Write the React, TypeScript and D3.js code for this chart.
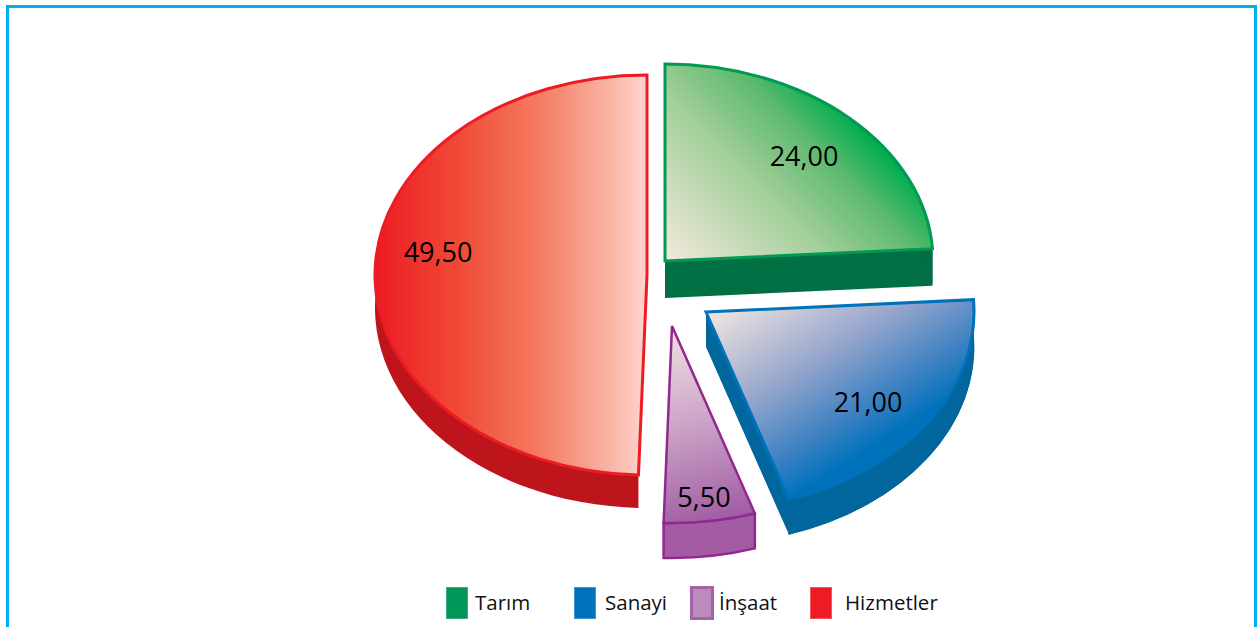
import React from "react";
import * as d3 from "d3";

const categories = ["Tarım", "Sanayi", "İnşaat", "Hizmetler"];
const values = [24, 21, 5.5, 49.5];
const valueLabels = ["24,00", "21,00", "5,50", "49,50"];

// style / layout tables, indexed like categories
const centers = [[665, 261], [706, 312], [672, 326], [647, 275]];
const radii = [[268, 197], [268, 197], [268, 197], [272, 200]];
const depths = [37, 35, 35, 33];
const strokes = ["#009a54", "#0072bc", "#92278f", "#ed1c24"];
const strokeWidths = [3, 3, 2.5, 3];
const sides = ["#006f44", "#00669d", "#a35ba3", "#be151c"];
const wallStrokes = ["none", "#005f92", "#92278f", "none"];
const gradStops = [
  [[0, "#f5e9dd"], [0.5, "#a5cf9c"], [0.8, "#5dba6e"], [1, "#00ac50"]],
  [[0, "#f4e6e0"], [0.5, "#92a4cc"], [0.8, "#3f82c2"], [1, "#0072bc"]],
  [[0, "#f2e0e2"], [0.5, "#c9a0c5"], [1, "#9c559f"]],
  [[0, "#ed1c24"], [0.3, "#f04a36"], [0.6, "#f47c62"], [0.85, "#f9b2a2"], [1, "#ffd6d1"]],
];
const gradVec = [[665, 261, 830, 96], [706, 312, 814, 484], [672, 326, 725, 530], [378, 275, 648, 275]];
const labelPos = [[804, 166], [868, 412], [704, 507], [438, 262]];
const legendSwatch = [446, 574, 691, 810];
const legendText = [475, 605, 719, 845];
const legendFill = ["#00965a", "#0072bc", "#bb8cbc", "#ed1c24"];
const legendStroke = ["#3fae7c", "#3f95cd", "#a561aa", "#f2555a"];

const FONT = "'Open Sans', 'Noto Sans', sans-serif";

export default function App() {
  const arcs = d3.pie<number>().sort(null)(values);
  const pt = (i: number, a: number, dy = 0) => [
    centers[i][0] + radii[i][0] * Math.sin(a),
    centers[i][1] - radii[i][1] * Math.cos(a) + dy,
  ];
  const arcTo = (i: number, a0: number, a1: number, dy: number, sweep: number) => {
    const [x, y] = pt(i, a1, dy);
    const large = Math.abs(a1 - a0) > Math.PI ? 1 : 0;
    return `A${radii[i][0]} ${radii[i][1]} 0 ${large} ${sweep} ${x} ${y}`;
  };
  const face = (i: number, a0: number, a1: number) => {
    const [cx, cy] = centers[i];
    const [x0, y0] = pt(i, a0);
    return `M${cx} ${cy}L${x0} ${y0}${arcTo(i, a0, a1, 0, 1)}Z`;
  };
  const quad = (i: number, a: number) => {
    const [cx, cy] = centers[i];
    const [x, y] = pt(i, a);
    const d = depths[i];
    return `M${cx} ${cy}L${x} ${y}L${x} ${y + d}L${cx} ${cy + d}Z`;
  };
  const rim = (i: number, a0: number, a1: number) => {
    const [x0, y0] = pt(i, a0);
    const [x1, y1] = pt(i, a1, depths[i]);
    return `M${x0} ${y0}${arcTo(i, a0, a1, 0, 1)}L${x1} ${y1}${arcTo(i, a1, a0, depths[i], 0)}Z`;
  };
  const order = [3, 0, 1, 2];

  return (
    <svg width={1258} height={627} style={{ position: "absolute", left: 0, top: 0, display: "block", background: "#fff" }}>
      <defs>
        {categories.map((_, i) => (
          <linearGradient key={i} id={`g${i}`} gradientUnits="userSpaceOnUse"
            x1={gradVec[i][0]} y1={gradVec[i][1]} x2={gradVec[i][2]} y2={gradVec[i][3]}>
            {gradStops[i].map(([o, c]) => (
              <stop key={String(o)} offset={o as number} stopColor={c as string} />
            ))}
          </linearGradient>
        ))}
      </defs>

      <path d="M7.5 627V6.5H1255.5V627" fill="none" stroke="#00aeef" strokeWidth={3} />

      {order.map((i) => {
        const { startAngle: a0, endAngle: a1 } = arcs[i];
        return (
          <g key={i}>
            {i !== 3 && <path d={quad(i, a0)} fill={sides[i]} />}
            {i !== 3 && <path d={quad(i, a1)} fill={sides[i]} />}
            {i === 3
              ? <path d={rim(i, a0, Math.PI * 1.55)} fill={sides[i]} />
              : <path d={rim(i, a0, a1)} fill={sides[i]} stroke={wallStrokes[i]} strokeWidth={i === 2 ? 2.5 : 1} />}
            <path d={face(i, a0, a1)} fill={`url(#g${i})`} stroke={strokes[i]} strokeWidth={strokeWidths[i]} strokeLinejoin="miter" />
            <text x={labelPos[i][0]} y={labelPos[i][1]} textAnchor="middle" fontFamily={FONT} fontSize={27} fill="#000">
              {valueLabels[i]}
            </text>
          </g>
        );
      })}

      {categories.map((c, i) => (
        <g key={c}>
          <rect x={legendSwatch[i] + 0.5} y={587.5} width={21} height={31} fill={legendFill[i]} stroke={legendStroke[i]} strokeWidth={i === 2 ? 3 : 1} />
          <text x={legendText[i]} y={610} fontFamily={FONT} fontSize={20.5} fill="#111">{c}</text>
        </g>
      ))}
    </svg>
  );
}
